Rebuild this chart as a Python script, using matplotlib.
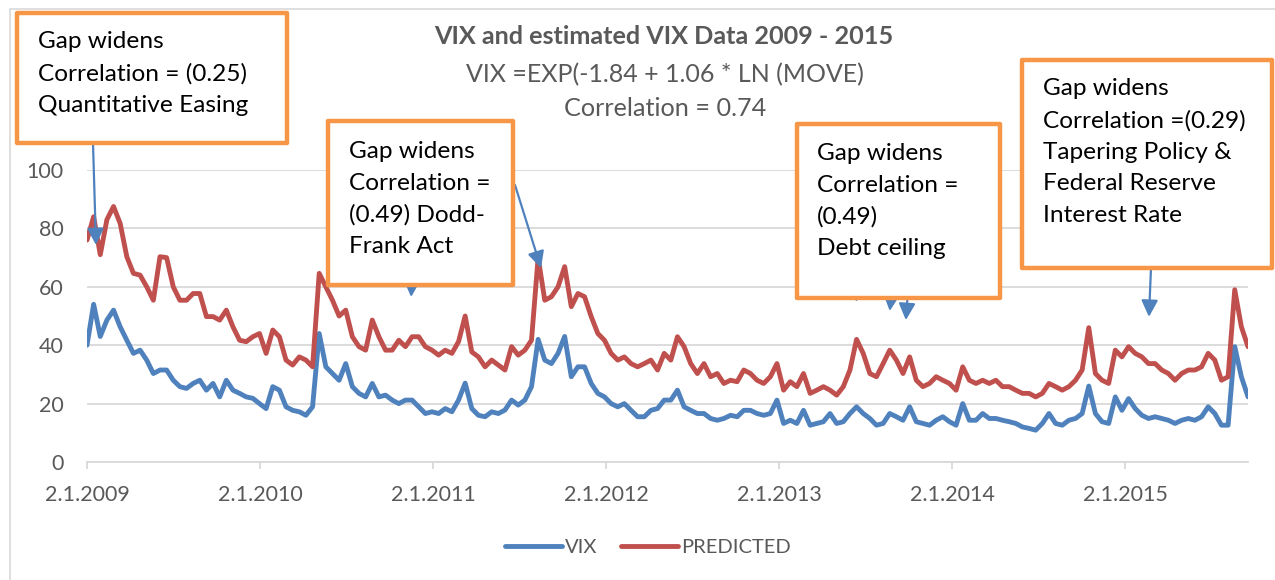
import numpy as np
import pandas as pd
import matplotlib
matplotlib.use("Agg")
import matplotlib.pyplot as plt
import matplotlib.dates as mdates
from matplotlib.patches import Rectangle

# values, one every 14 days from 2.1.2009
dates = pd.date_range("2009-01-02", periods=176, freq="14D")
vix = [40, 54, 43, 48.6, 52, 46.3, 41.7, 37.2, 38.3, 34.9, 30.3, 31.5, 31.5, 28, 25.8, 25.2,
       26.9, 28, 24.6, 26.9, 22.3, 28, 24.6, 23.5, 22.3, 21.8, 20, 18.3, 25.8, 24.6, 18.9, 17.7,
       17.2, 16, 18.9, 44, 32.6, 30.3, 28, 33.7, 25.8, 23.5, 22.3, 26.9, 22.3, 22.9, 21.2, 20,
       21.2, 21.2, 18.9, 16.6, 17.2, 16.6, 18.3, 17.2, 21.2, 27, 18.3, 16, 15.5, 17.2, 16.6, 17.8,
       21.2, 19.5, 21.2, 25.8, 42, 34.9, 33.7, 37.2, 43, 29.2, 32.6, 32.6, 26.9, 23.5, 22.3, 20,
       18.9, 20, 17.7, 15.5, 15.5, 17.7, 18.3, 21.2, 21.2, 24.6, 18.9, 17.7, 16.6, 16.6, 14.9, 14.3,
       14.9, 16, 15.5, 17.7, 17.7, 16.6, 16, 16.6, 21.2, 13.2, 14.3, 13.2, 17.7, 12.6, 13.2, 13.8,
       16.6, 13.2, 13.8, 16.6, 18.9, 16.6, 14.9, 12.6, 13.2, 16.6, 15.5, 14.3, 18.9, 13.8, 13.2, 12.6,
       14.3, 15.5, 13.8, 12.6, 20, 14.3, 14.3, 16.6, 14.9, 14.9, 14.3, 13.8, 13.2, 12, 11.5, 10.9,
       13.2, 16.6, 13.2, 12.6, 14.3, 14.9, 16.6, 26, 16.6, 13.8, 13.2, 22.3, 17.7, 21.7, 18.3, 16,
       14.9, 15.5, 14.9, 14.3, 13.2, 14.3, 14.9, 14.3, 15.5, 18.9, 16.6, 12.6, 12.6, 39.5, 29.2, 22.3]
predicted = [76, 84, 71, 83, 87.5, 81.7, 70.3, 64.6, 64, 60, 55.4, 70.3, 70, 60, 55.4, 55.4,
             57.7, 57.7, 49.8, 49.8, 48.6, 52, 46.3, 41.7, 41.2, 42.9, 44, 37.2, 45.2, 42.9, 34.9, 33.2,
             36, 34.9, 32.6, 64.6, 60, 55.4, 50, 52, 42.9, 39.5, 38.3, 48.6, 42.9, 38.3, 38.3, 41.7,
             39.5, 42.9, 42.9, 39.5, 38.3, 36.6, 38.3, 37.2, 41.2, 50, 37.7, 36, 32.6, 34.9, 33.2, 31.5,
             39.5, 36.6, 38.3, 41.7, 70, 55.4, 56.6, 60, 66.9, 53.2, 57.7, 56.6, 49.8, 44, 41.7, 37.2,
             34.9, 36, 33.7, 32.6, 33.7, 34.9, 31.5, 37.2, 34.9, 42.9, 39.5, 33.7, 30.3, 33.7, 29.2, 30.3,
             26.9, 28, 27.5, 31.5, 30.3, 28, 26.9, 29.2, 33.7, 24.6, 27.5, 25.8, 30.3, 23.5, 24.6, 25.8,
             24.6, 22.9, 25.8, 31.5, 42, 37.2, 30.3, 29.2, 33.7, 38.3, 34.9, 30.3, 36, 28, 25.8, 26.9,
             29.2, 28, 26.9, 24.6, 32.6, 28, 26.9, 28, 26.9, 28, 25.8, 25.8, 24.6, 23.5, 23.5, 22.3,
             23.5, 26.9, 25.8, 24.6, 25.8, 28, 31.5, 46, 30.3, 28, 26.9, 38.3, 36, 39.5, 37.2, 36,
             33.7, 33.7, 31.5, 30.3, 28, 30.3, 31.5, 31.5, 32.6, 37.2, 34.9, 28, 29.2, 59, 46.3, 39.5]

tick_dates = pd.to_datetime(["2009-01-02", "2010-01-02", "2011-01-02", "2012-01-02",
                             "2013-01-02", "2014-01-02", "2015-01-02"])
tick_labels = ["2.1.2009", "2.1.2010", "2.1.2011", "2.1.2012", "2.1.2013", "2.1.2014", "2.1.2015"]

notes = ["Gap widens\nCorrelation = (0.25)\nQuantitative Easing",
         "Gap widens\nCorrelation =\n(0.49) Dodd-\nFrank Act",
         "Gap widens\nCorrelation =\n(0.49)\nDebt ceiling",
         "Gap widens\nCorrelation =(0.29)\nTapering Policy &\nFederal Reserve\nInterest Rate"]

BLUE = "#4F81BD"
RED = "#C0504D"
ORANGE = "#F79646"
GREY = "#595959"
GRID = "#D9D9D9"

plt.rcParams["font.family"] = ["Lato", "DejaVu Sans"]

W, H = 1275, 580
fig = plt.figure(figsize=(W / 100, H / 100), dpi=100)


def fx(px):
    return px / W


def fy(py):
    return 1 - py / H


# chart outline (only left and top edges fall inside the picture)
fig.add_artist(Rectangle((fx(10), fy(600)), fx(1300), fy(9) - fy(600), transform=fig.transFigure,
                         fill=False, edgecolor=GRID, lw=1.2, zorder=0))

ax = fig.add_axes([fx(87), fy(462), fx(1248) - fx(87), fy(170) - fy(462)])
ax.plot(dates, vix, color=BLUE, lw=3.5, label="VIX", solid_joinstyle="round", solid_capstyle="round")
ax.plot(dates, predicted, color=RED, lw=3.5, label="PREDICTED", solid_joinstyle="round",
        solid_capstyle="round")

ax.set_ylim(0, 100)
ax.set_xlim(dates[0], dates[-1])
ax.set_yticks(range(0, 101, 20))
ax.set_xticks(tick_dates)
ax.set_xticklabels(tick_labels)
ax.grid(axis="y", color=GRID, lw=1.3)
ax.set_axisbelow(True)
for s in ["left", "right", "top"]:
    ax.spines[s].set_visible(False)
ax.spines["bottom"].set_color(GRID)
ax.spines["bottom"].set_linewidth(1.3)
ax.tick_params(axis="y", length=0, pad=17, labelsize=15.5, labelcolor=GREY)
ax.tick_params(axis="x", length=5, width=1.3, color=GRID, pad=11.5, labelsize=15.5, labelcolor=GREY)

leg = fig.legend(loc="center", bbox_to_anchor=(fx(648), fy(547)), ncol=2, frameon=False,
                 fontsize=14.5, handlelength=2.8, handletextpad=0.15, columnspacing=1.2)
for t in leg.get_texts():
    t.set_color(GREY)

# title block
fig.text(fx(664), fy(36), "VIX and estimated VIX Data 2009 - 2015", ha="center", va="center",
         fontsize=18.2, fontweight="bold", color=GREY)
fig.text(fx(665), fy(75), "VIX =EXP(-1.84 + 1.06 * LN (MOVE)", ha="center", va="center",
         fontsize=18, color=GREY)
fig.text(fx(665), fy(108), "Correlation = 0.74", ha="center", va="center", fontsize=18.2, color=GREY)

# annotation boxes: (left, top, right, bottom) in pixels, text start
boxes = [(17, 13, 287, 143), (328, 121, 513, 285), (797, 124, 1000, 298), (1022, 60, 1272, 268)]
text_pos = [(38, 31), (349, 141), (817, 143), (1043, 78)]
for (l, t, r, b), (tx, ty), note in zip(boxes, text_pos, notes):
    fig.add_artist(Rectangle((fx(l), fy(b)), fx(r) - fx(l), fy(t) - fy(b), transform=fig.transFigure,
                             facecolor="white", edgecolor=ORANGE, lw=3.2, zorder=5,
                             joinstyle="round"))
    fig.text(fx(tx), fy(ty), note, ha="left", va="top", fontsize=17.6, color="black",
             linespacing=1.62, zorder=6)

# arrows: start point in pixels, tip on the data
arrows = [((93, 143), ("2009-01-21", 74.3)),
          ((515, 185), ("2011-08-18", 66.4)),
          ((412, 280), ("2010-11-17", 56.5)),
          ((858, 290), ("2013-06-13", 54.8)),
          ((892, 290), ("2013-08-23", 51.7)),
          ((908, 290), ("2013-09-26", 48.6)),
          ((1151, 268), ("2015-02-21", 49.7))]
for (sx, sy), (d, v) in arrows:
    ax.annotate("", xy=(mdates.date2num(pd.Timestamp(d)), v), xycoords="data",
                xytext=(fx(sx), fy(sy)), textcoords="figure fraction", zorder=4,
                arrowprops=dict(arrowstyle="-|>,head_length=0.5,head_width=0.25", mutation_scale=20,
                                color=BLUE, lw=1.6, shrinkA=0, shrinkB=0),
                annotation_clip=False)

fig.savefig("out.png", dpi=100)
